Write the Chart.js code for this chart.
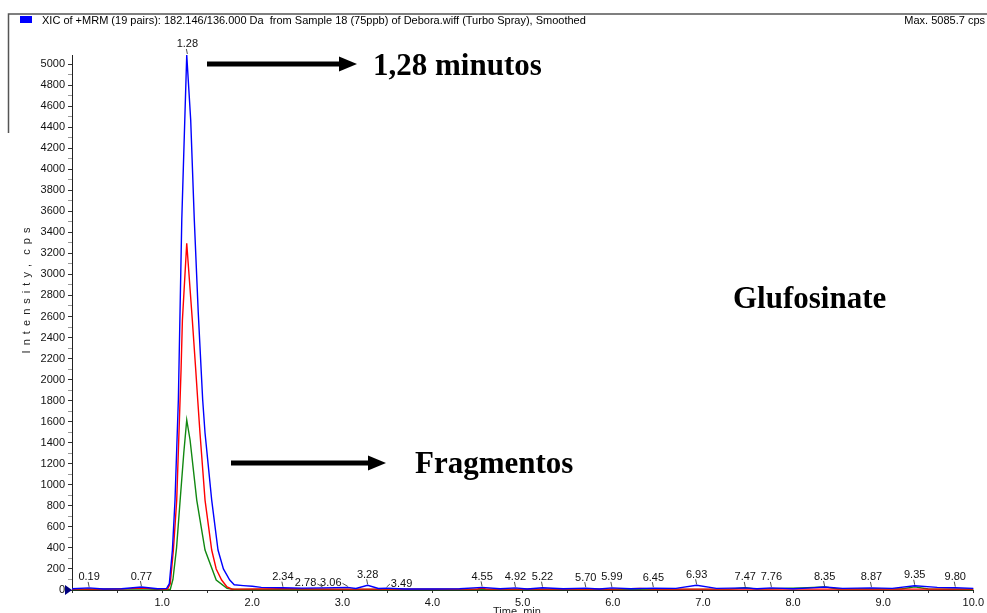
<!DOCTYPE html>
<html>
<head>
<meta charset="utf-8">
<title>XIC Glufosinate</title>
<script src="https://cdn.jsdelivr.net/npm/chart.js@4.4.0/dist/chart.umd.min.js"></script>
<style>
  html, body { margin: 0; padding: 0; background: #fff; }
  #wrap { position: relative; width: 987px; height: 613px; }
</style>
</head>
<body>
<div id="wrap"><canvas id="xic"></canvas></div>
<script>
// Trace 1 (blue) - 182.146/136.000
const blueTime = [0.00, 0.19, 0.35, 0.55, 0.77, 0.95, 1.05, 1.08, 1.114, 1.143, 1.18, 1.218, 1.273, 1.317, 1.357, 1.40,
  1.45, 1.476, 1.55, 1.62, 1.68, 1.75, 1.80, 1.90, 2.00, 2.10, 2.34, 2.55, 2.78, 3.06, 3.15, 3.28, 3.40, 3.49, 3.70,
  4.00, 4.30, 4.55, 4.75, 4.92, 5.05, 5.22, 5.45, 5.70, 5.85, 5.99, 6.20, 6.45, 6.70, 6.93, 7.15, 7.47, 7.60, 7.76,
  8.00, 8.20, 8.35, 8.55, 8.87, 9.10, 9.35, 9.60, 9.80, 10.00];
const blueCps = [12, 20, 10, 12, 28, 12, 15, 60, 380, 855, 1806, 3517, 5086, 4468, 3517, 2650,
  1806, 1492, 855, 380, 200, 95, 50, 42, 35, 25, 22, 18, 20, 25, 15, 45, 15, 18, 10,
  10, 12, 25, 12, 20, 10, 22, 12, 18, 10, 20, 12, 18, 15, 45, 15, 20, 12, 20,
  12, 20, 28, 15, 20, 15, 40, 25, 22, 15];

// Trace 2 (red)
const redTime = [0.00, 0.50, 0.77, 1.00, 1.06, 1.09, 1.125, 1.162, 1.199, 1.21, 1.225, 1.273, 1.335, 1.373, 1.395,
  1.42, 1.476, 1.55, 1.60, 1.66, 1.72, 1.77, 1.85, 2.34, 3.00, 3.50, 4.00, 4.50, 4.55, 4.60, 5.00, 6.00, 6.30,
  6.45, 7.00, 8.00, 9.00, 10.00];
const redCps = [8, 8, 18, 8, 10, 60, 380, 855, 1806, 2091, 2567, 3296, 2567, 2091, 1806,
  1492, 855, 380, 200, 95, 30, 10, 8, 12, 8, 8, 8, 10, 18, 8, 8, 8, 15,
  10, 8, 8, 8, 8];

// Trace 3 (green)
const greenTime = [0.00, 0.77, 1.00, 1.09, 1.12, 1.16, 1.20, 1.24, 1.273, 1.31, 1.384, 1.476, 1.60, 1.72, 1.80,
  3.00, 5.00, 7.30, 7.47, 7.60, 8.10, 8.35, 8.50, 9.20, 9.35, 9.50, 10.00];
const greenCps = [5, 12, 5, 5, 100, 400, 855, 1300, 1616, 1426, 855, 380, 95, 15, 5,
  5, 5, 8, 22, 8, 20, 30, 10, 10, 30, 10, 5];

// retention times printed over the peaks
const peakTimes = [0.19, 0.77, 1.28, 2.34, 2.78, 3.06, 3.28, 3.49, 4.55, 4.92, 5.22, 5.70, 5.99, 6.45, 6.93,
  7.47, 7.76, 8.35, 8.87, 9.35, 9.80];

const yMax = 5085.7;
const headerText = 'XIC of +MRM (19 pairs): 182.146/136.000 Da  from Sample 18 (75ppb) of Debora.wiff (Turbo Spray), Smoothed';

function toPoints(ts, vs) {
  return ts.map((t, i) => ({ x: t, y: vs[i] }));
}

function blueAt(t) {
  for (let i = 1; i < blueTime.length; i++) {
    if (t <= blueTime[i]) {
      const f = (t - blueTime[i - 1]) / (blueTime[i] - blueTime[i - 1]);
      return blueCps[i - 1] + f * (blueCps[i] - blueCps[i - 1]);
    }
  }
  return blueCps[blueCps.length - 1];
}

function arrow(ctx, x1, x2, y) {
  ctx.save();
  ctx.fillStyle = '#000';
  ctx.fillRect(x1, y - 2.5, x2 - 17 - x1, 5);
  ctx.beginPath();
  ctx.moveTo(x2 - 18, y - 7.5);
  ctx.lineTo(x2, y);
  ctx.lineTo(x2 - 18, y + 7.5);
  ctx.closePath();
  ctx.fill();
  ctx.restore();
}

// everything the analyst software prints round the plot
const decorations = {
  id: 'decorations',
  afterDraw(chart) {
    const ctx = chart.ctx;
    const x = chart.scales.x, y = chart.scales.y;
    ctx.save();

    // frame and header
    ctx.strokeStyle = '#555';
    ctx.lineWidth = 1.5;
    ctx.beginPath();
    ctx.moveTo(8.5, 133);
    ctx.lineTo(8.5, 14);
    ctx.lineTo(987, 14);
    ctx.stroke();
    ctx.fillStyle = '#0000ff';
    ctx.fillRect(20, 16, 12, 7);
    ctx.fillStyle = '#000';
    ctx.font = '11px Arial, "Liberation Sans", sans-serif';
    ctx.textBaseline = 'alphabetic';
    ctx.textAlign = 'left';
    ctx.fillText(headerText, 42, 24);
    ctx.textAlign = 'right';
    ctx.fillText('Max. 5085.7 cps', 985, 24);

    // axis titles
    ctx.textAlign = 'center';
    ctx.textBaseline = 'middle';
    ctx.fillStyle = '#222';
    ctx.save();
    ctx.translate(27, 290);
    ctx.rotate(-Math.PI / 2);
    ctx.letterSpacing = '1px';
    ctx.fillText('I n t e n s i t y ,  c p s', 0, 0);
    ctx.restore();
    ctx.textBaseline = 'top';
    ctx.fillText('Time, min', 517, 606);

    // start marker at the origin
    ctx.fillStyle = '#000080';
    ctx.beginPath();
    ctx.moveTo(65, y.bottom - 5);
    ctx.lineTo(72, y.bottom);
    ctx.lineTo(65, y.bottom + 5);
    ctx.closePath();
    ctx.fill();

    // peak labels with short leaders
    const shift = { 2.78: -17, 3.06: -17, 3.49: 15 };
    ctx.font = '11px Arial, "Liberation Sans", sans-serif';
    ctx.strokeStyle = '#222';
    ctx.lineWidth = 0.8;
    peakTimes.forEach(t => {
      const px = x.getPixelForValue(t);
      const py = y.getPixelForValue(t === 1.28 ? 5086 : blueAt(t));
      const dx = shift[t] || 0;
      const label = t.toFixed(2);
      const w = ctx.measureText(label).width;
      const cx = px + dx;
      const bottom = dx ? py + 1 : py - 5;
      ctx.fillStyle = '#111';
      ctx.textAlign = 'center';
      ctx.textBaseline = 'bottom';
      ctx.fillText(label, cx, bottom);
      ctx.beginPath();
      if (dx) {
        const sx = cx - Math.sign(dx) * (w / 2 + 1);
        ctx.moveTo(sx, bottom - 5);
        ctx.lineTo(px, py - 1);
      } else {
        ctx.moveTo(cx - 1, bottom - 1);
        ctx.lineTo(px, py - 1);
      }
      ctx.stroke();
    });

    // annotations
    arrow(ctx, 207, 357, 64);
    arrow(ctx, 231, 386, 463);
    ctx.fillStyle = '#000';
    ctx.font = 'bold 31px "Liberation Serif", "Times New Roman", serif';
    ctx.textAlign = 'left';
    ctx.textBaseline = 'alphabetic';
    ctx.fillText('1,28 minutos', 373, 75);
    ctx.fillText('Fragmentos', 415, 473);
    ctx.fillText('Glufosinate', 733, 308);
    ctx.restore();
  }
};

new Chart(document.getElementById('xic'), {
  type: 'line',
  data: {
    datasets: [
      { label: 'blue', data: toPoints(blueTime, blueCps), borderColor: '#0000ff' },
      { label: 'red', data: toPoints(redTime, redCps), borderColor: '#ff0000' },
      { label: 'green', data: toPoints(greenTime, greenCps), borderColor: '#118811' }
    ]
  },
  options: {
    responsive: true,
    maintainAspectRatio: false,
    animation: false,
    clip: false,
    datasets: {
      line: { borderWidth: 1.4, pointRadius: 0, tension: 0, fill: false }
    },
    layout: { padding: { left: 0, top: 55, right: 11, bottom: 0 } },
    plugins: { legend: { display: false }, tooltip: { enabled: false } },
    scales: {
      x: {
        type: 'linear',
        min: 0,
        max: 10,
        afterFit: s => { s.height = 23; },
        border: { display: true, color: '#222', width: 1 },
        grid: { drawOnChartArea: false, drawTicks: true, tickLength: 3, tickColor: '#333' },
        ticks: {
          stepSize: 0.5,
          autoSkip: false,
          maxRotation: 0,
          padding: 3,
          color: '#111',
          font: { family: 'Arial, "Liberation Sans", sans-serif', size: 11 },
          callback: v => (Number.isInteger(v) && v > 0) ? v.toFixed(1) : ''
        }
      },
      y: {
        min: 0,
        max: yMax,
        afterFit: s => { s.width = 72; },
        border: { display: true, color: '#222', width: 1 },
        grid: {
          drawOnChartArea: false,
          drawTicks: true,
          tickLength: 4,
          tickColor: c => (c.tick && c.tick.value % 200 === 0) ? '#333' : '#999'
        },
        ticks: {
          stepSize: 100,
          includeBounds: false,
          autoSkip: false,
          padding: 3,
          color: '#111',
          font: { family: 'Arial, "Liberation Sans", sans-serif', size: 11 },
          callback: v => (v % 200 === 0) ? String(v) : ''
        }
      }
    }
  },
  plugins: [decorations]
});
</script>
</body>
</html>
